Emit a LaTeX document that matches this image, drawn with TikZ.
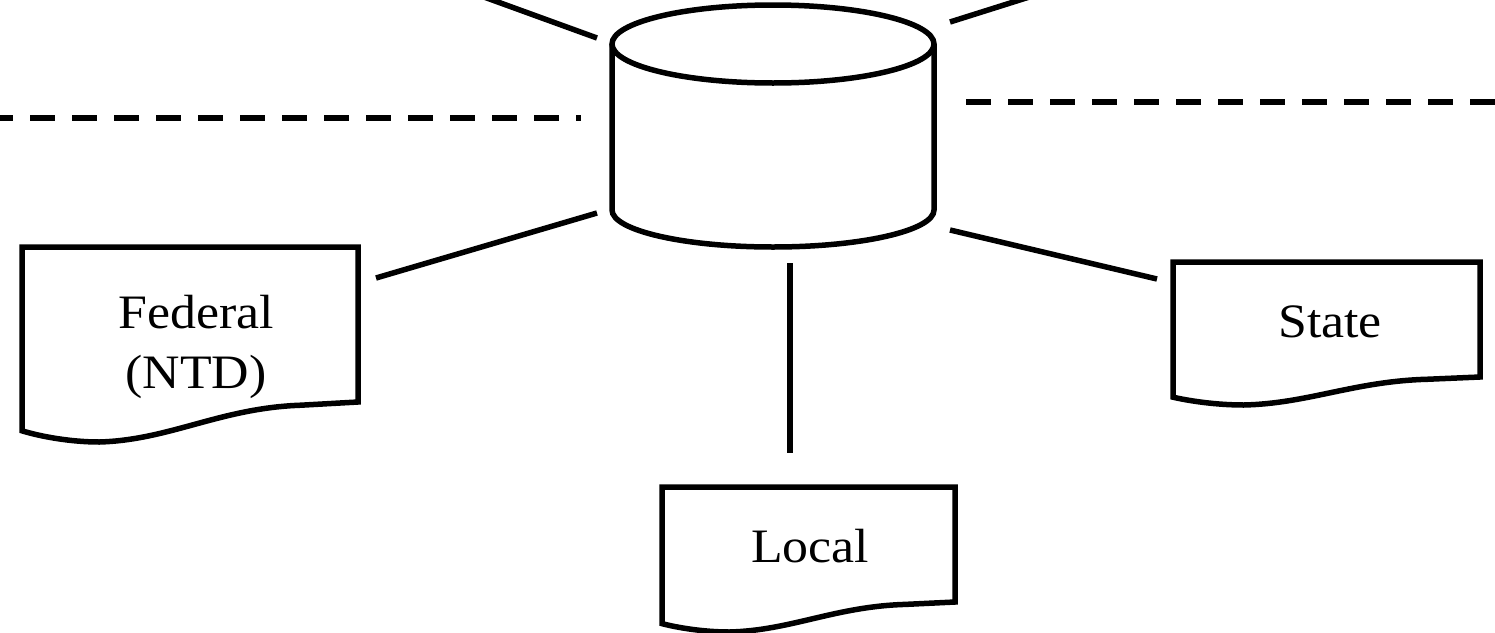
\documentclass[tikz,border=0pt]{standalone}
\usepackage{fontspec}
\setmainfont[FakeStretch=1.08]{Liberation Serif}
\usetikzlibrary{calc}

% document outline: name, depth of the wave below the right corner
\newcommand\drawdoc[2]{%
\draw[thickline] let \p1=(#1.north west), \p2=(#1.south east), \n1={\x2-\x1} in
 (\p1) -- (\x2,\y1) -- (\p2) -- (\x2-0.17*\n1,\y2-0.08*#2pt)
 .. controls (\x1+0.59*\n1,\y2-0.15*#2pt) and (\x1+0.44*\n1,\y2-0.95*#2pt) .. (\x1+0.23*\n1,\y2-#2pt)
 .. controls (\x1+0.14*\n1,\y2-#2pt) and (\x1+0.05*\n1,\y2-0.85*#2pt) .. (\x1,\y2-0.72*#2pt) -- cycle;}

\begin{document}
\begin{tikzpicture}[x=1pt,y=-1pt,
  thickline/.style={line width=5.5pt},
  link/.style={line width=5.5pt},
  sep/.style={line width=5.5pt,dash pattern=on 25pt off 17pt},
  box/.style={rectangle,draw=none,inner sep=0pt,outer sep=0pt},
  doctext/.style={font=\fontsize{48}{60}\selectfont,align=center,inner sep=0pt}]

\useasboundingbox (0,0) rectangle (1495,632);

% separators
\draw[sep] (-12,118) -- (581,118);
\draw[sep] (966,102) -- (1500,102);

% database
\node[box,minimum width=322pt,minimum height=166pt] (db) at (773,127) {};
\draw[thickline] (db.north west) -- (db.south west)
  arc[start angle=180,end angle=360,x radius=161pt,y radius=37pt] -- (db.north east);
\draw[thickline] (db.north) ellipse[x radius=161pt,y radius=39pt];

% documents
\node[box,minimum width=336pt,minimum height=155pt] (fed) at (190,324.5) {};
\drawdoc{fed}{40}
\node[doctext] (fedtxt) at (196,347) {Federal\\(NTD)};

\node[box,minimum width=293pt,minimum height=115pt] (loc) at (808.5,544.5) {};
\drawdoc{loc}{30}
\node[doctext] (loctxt) at (810,546) {Local};

\node[box,minimum width=307pt,minimum height=115pt] (sta) at (1326.5,319.5) {};
\drawdoc{sta}{28}
\node[doctext] (statxt) at (1330,322) {State};

% links
\coordinate (upleft) at (440,-19);
\coordinate (upright) at (1080,-19);
\draw[link] ([shift={(-15,-6)}]db.north west) -- (upleft);
\draw[link] ([shift={(16,-22)}]db.north east) -- (upright);
\draw[link] ([shift={(18,31)}]fed.north east) -- ([shift={(-15,3)}]db.south west);
\draw[link] ([shift={(16,20)}]db.south east) -- ([shift={(-16,17)}]sta.north west);
\draw[link] ([shift={(17,53)}]db.south) -- ([shift={(-18.5,-34)}]loc.north);

\end{tikzpicture}
\end{document}
